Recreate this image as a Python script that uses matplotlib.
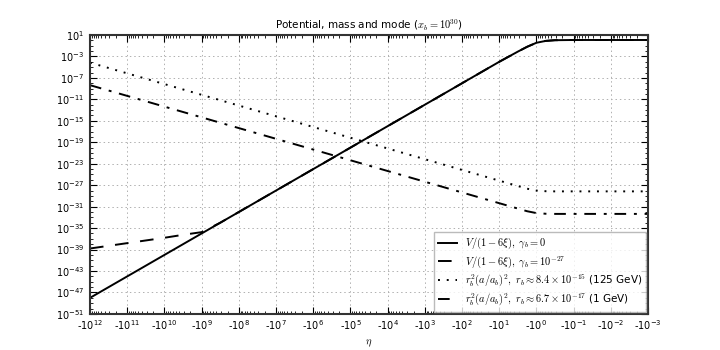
import numpy as np
import matplotlib
matplotlib.use("Agg")
import matplotlib.pyplot as plt
from matplotlib.ticker import LogLocator, FixedLocator, FuncFormatter, NullFormatter

plt.rcParams['mathtext.fontset'] = 'cm'

# log10(-eta) sample points
log_eta = [12, 11, 10, 9.5, 9, 8.5, 8, 7, 6, 5, 4, 3, 2, 1, 0.5, 0.25, 0, -0.25, -0.5, -1, -2, -3]

# log10 of each curve
log_V0 = [-48, -44, -40, -38, -36, -34, -32, -28, -24, -20, -16, -12, -8, -4, -2.1, -1.2, -0.45, -0.1, 0.03, 0.07, 0.07, 0.07]
log_V27 = [-38.8, -37.8, -36.8, -36.25, -35.75, -34.0, -32, -28, -24, -20, -16, -12, -8, -4, -2.1, -1.2, -0.45, -0.1, 0.03, 0.07, 0.07, 0.07]
log_mode125 = [-4.15, -6.15, -8.15, -9.15, -10.15, -11.15, -12.15, -14.15, -16.15, -18.15, -20.15, -22.15,
               -24.15, -26.15, -27.15, -27.65, -28.0, -28.12, -28.15, -28.15, -28.15, -28.15]
log_mode1 = [-8.35, -10.35, -12.35, -13.35, -14.35, -15.35, -16.35, -18.35, -20.35, -22.35, -24.35, -26.35,
             -28.35, -30.35, -31.35, -31.85, -32.2, -32.32, -32.35, -32.35, -32.35, -32.35]

labels = [r'$V/(1-6\xi),\ \gamma_b=0$',
          r'$V/(1-6\xi),\ \gamma_b=10^{-27}$',
          r'$r_b^2(a/a_b)^2,\ r_b\approx 8.4\times10^{-15}$ (125 GeV)',
          r'$r_b^2(a/a_b)^2,\ r_b\approx 6.7\times10^{-17}$ (1 GeV)']

x = 10.0 ** np.array(log_eta)   # this is -eta

fig = plt.figure(figsize=(7.2, 3.5), dpi=100)
ax = fig.add_axes([0.125, 0.103, 0.775, 0.797])

ax.plot(x, 10.0 ** np.array(log_V0), 'k-', lw=1.4, label=labels[0])
ax.plot(x, 10.0 ** np.array(log_V27), 'k--', lw=1.4, dashes=(7, 6), label=labels[1])
ax.plot(x, 10.0 ** np.array(log_mode125), 'k:', lw=1.4, dashes=(1, 3.5), label=labels[2])
ax.plot(x, 10.0 ** np.array(log_mode1), 'k-.', lw=1.4, dashes=(6, 4, 1.5, 4), label=labels[3])

ax.set_xscale('log')
ax.set_yscale('log')
ax.set_xlim(1e12, 1e-3)
ax.set_ylim(1e-51, 1e1)

ax.xaxis.set_major_locator(FixedLocator([10.0 ** k for k in range(-3, 13)]))
ax.xaxis.set_major_formatter(FuncFormatter(lambda v, p: r'-$\mathdefault{10^{%d}}$' % round(np.log10(v))))
ax.xaxis.set_minor_locator(LogLocator(base=10, subs=np.arange(2, 10), numticks=100))
ax.xaxis.set_minor_formatter(NullFormatter())

ax.yaxis.set_major_locator(FixedLocator([10.0 ** k for k in range(-51, 2, 4)]))
ax.yaxis.set_major_formatter(FuncFormatter(lambda v, p: r'$\mathdefault{10^{%d}}$' % round(np.log10(v))))
ax.yaxis.set_minor_locator(FixedLocator([10.0 ** k for k in range(-51, 2)]))
ax.yaxis.set_minor_formatter(NullFormatter())

ax.tick_params(which='both', direction='in', top=True, right=True, labelsize=7)
ax.tick_params(which='major', length=5, width=0.8)
ax.tick_params(which='minor', length=2, width=0.6)
ax.tick_params(axis='x', pad=3)
ax.tick_params(axis='y', pad=4)
for s in ax.spines.values():
    s.set_linewidth(1.5)
    s.set_color('#333333')

ax.grid(True, which='major', linestyle=(0, (1.5, 3)), color='#b0b0b0', lw=0.7)

ax.set_title(r'Potential, mass and mode ($x_b=10^{30}$)', fontsize=7.5, pad=4)
ax.set_xlabel(r'$\eta$', fontsize=7.5, labelpad=4)

leg = ax.legend(loc='lower right', fontsize=7.5, handlelength=1.8, borderaxespad=0.2,
                fancybox=False, labelspacing=0.28, borderpad=0.35)
leg.get_frame().set_edgecolor('#aaaaaa')

fig.savefig('out.png', dpi=100)
